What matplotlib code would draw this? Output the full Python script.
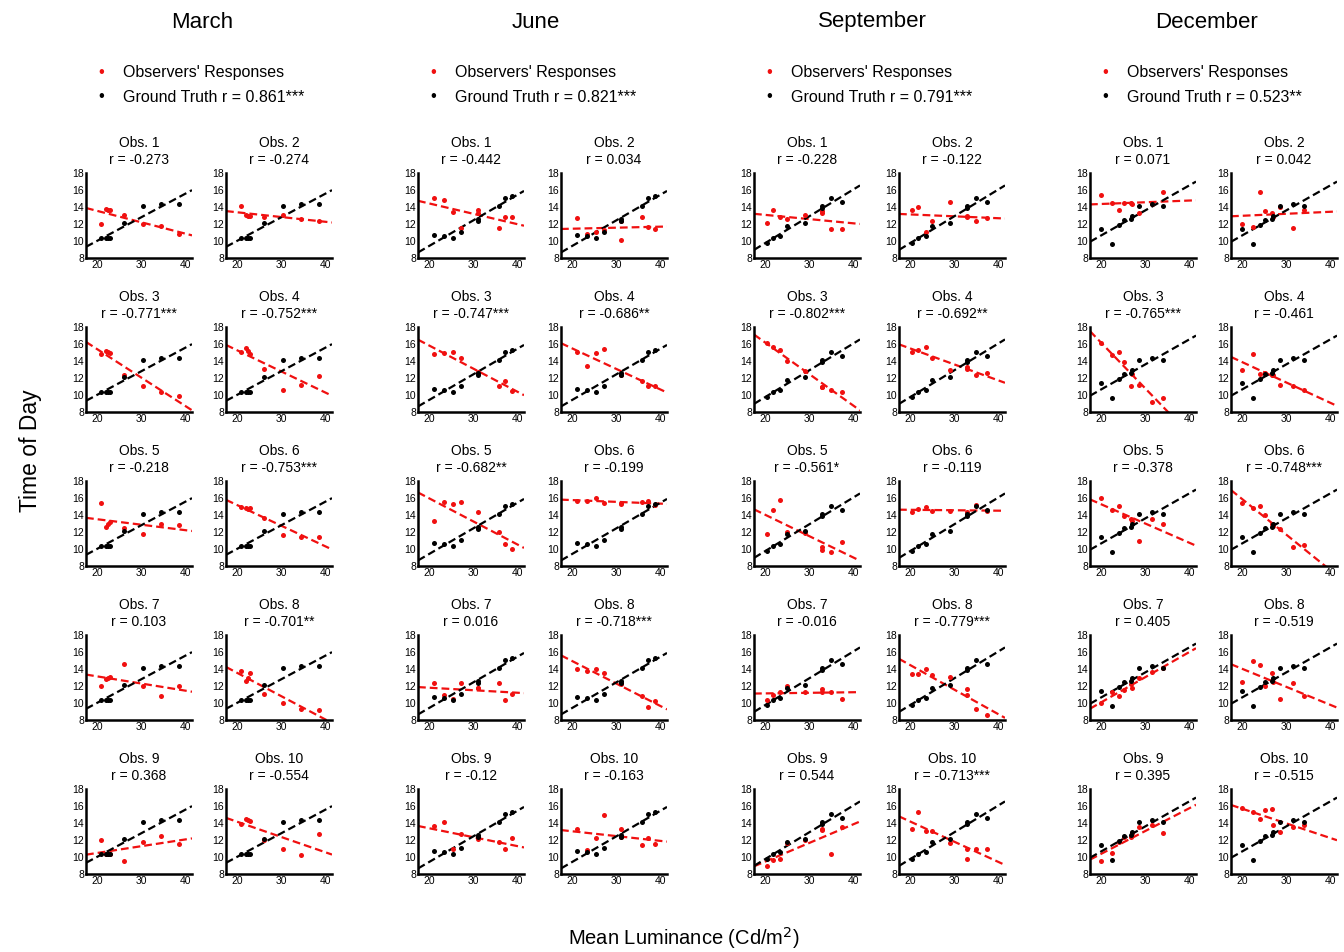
import numpy as np
import matplotlib
matplotlib.use("Agg")
import matplotlib.pyplot as plt

plt.rcParams['font.family'] = ['Liberation Sans', 'DejaVu Sans']

# months and ground-truth
months = ["March", "June", "September", "December"]
gt_r = ["0.861***", "0.821***", "0.791***", "0.523**"]

march_x = [21, 22, 22.5, 23, 26, 30.5, 34.5, 38.5]
march_gt = [10.4, 10.4, 10.3, 10.3, 12.1, 14.1, 14.3, 14.3]
march_obs = [
    [12.0, 13.8, 13.6, 13.6, 13.0, 12.0, 11.8, 10.8],
    [14.1, 13.1, 12.9, 12.9, 12.8, 13.1, 12.6, 12.3],
    [14.8, 15.2, 15.1, 14.9, 12.4, 11.1, 10.4, 9.9],
    [15.1, 15.5, 15.2, 14.8, 13.1, 10.6, 11.2, 12.2],
    [15.4, 12.6, 13.0, 13.2, 12.5, 11.8, 13.0, 12.8],
    [15.0, 14.8, 14.7, 14.8, 13.6, 11.6, 11.4, 11.4],
    [12.0, 12.8, 12.9, 13.1, 14.6, 12.0, 10.8, 12.0],
    [13.8, 12.6, 13.0, 13.5, 11.1, 10.0, 9.3, 9.2],
    [12.0, 10.3, 10.4, 10.4, 9.5, 11.8, 12.5, 11.5],
    [13.9, 14.5, 14.3, 14.2, 12.0, 11.0, 10.2, 12.7],
]
march_r = ["-0.273", "-0.274", "-0.771***", "-0.752***", "-0.218",
           "-0.753***", "0.103", "-0.701**", "0.368", "-0.554"]

june_x = [21.2, 23.3, 25.5, 27.2, 31.0, 31.0, 35.8, 37.3, 38.7]
june_gt = [10.7, 10.6, 10.3, 11.1, 12.3, 12.6, 14.1, 15.1, 15.3]
june_obs = [
    [15.0, 14.8, 13.4, 11.5, 13.6, 13.3, 11.5, 12.8, 12.8],
    [12.7, 10.8, 11.0, 11.3, 10.1, 12.4, 12.8, 11.6, 11.4],
    [14.8, 14.9, 15.1, 14.4, 12.7, 12.6, 11.1, 11.6, 10.5],
    [15.1, 13.4, 14.9, 15.4, 12.5, 12.3, 11.6, 11.1, 11.1],
    [13.3, 15.5, 15.3, 15.5, 14.3, 12.5, 12.0, 10.6, 10.0],
    [15.7, 15.7, 16.0, 15.4, 15.4, 15.3, 15.5, 15.7, 15.2],
    [12.4, 11.0, 10.5, 12.3, 11.8, 11.8, 12.3, 10.3, 11.1],
    [14.0, 13.8, 14.0, 13.5, 12.2, 12.4, 10.8, 9.5, 10.2],
    [13.7, 14.1, 11.0, 12.7, 12.1, 12.3, 11.8, 11.0, 12.2],
    [13.3, 10.8, 12.2, 15.0, 13.3, 12.4, 11.4, 12.2, 11.5],
]
june_r = ["-0.442", "0.034", "-0.747***", "-0.686**", "-0.682**",
          "-0.199", "0.016", "-0.718***", "-0.12", "-0.163"]

sep_x = [20.5, 21.8, 23.5, 25.0, 29.0, 32.8, 32.8, 35.0, 37.5]
sep_gt = [9.8, 10.3, 10.6, 11.8, 12.1, 13.9, 14.1, 15.1, 14.6]
sep_obs = [
    [12.1, 13.6, 12.8, 12.6, 13.1, 13.3, 13.5, 11.4, 11.4],
    [13.7, 14.0, 11.0, 12.3, 14.6, 12.9, 12.8, 12.4, 12.7],
    [16.1, 15.6, 15.3, 14.0, 12.8, 10.9, 11.0, 10.6, 10.4],
    [15.1, 15.3, 15.6, 14.4, 13.0, 13.1, 13.3, 12.3, 12.6],
    [11.8, 14.6, 15.8, 12.0, 11.9, 9.9, 10.2, 9.7, 10.8],
    [14.4, 14.7, 15.0, 14.5, 14.5, 14.0, 14.3, 15.2, 14.5],
    [10.4, 10.9, 11.3, 12.0, 11.3, 11.7, 11.3, 11.3, 10.5],
    [13.4, 13.4, 14.0, 13.3, 13.1, 11.6, 11.0, 9.3, 8.6],
    [8.9, 9.6, 9.8, 11.6, 12.0, 13.2, 13.3, 10.3, 13.5],
    [13.3, 15.3, 13.1, 13.1, 11.7, 9.8, 11.0, 10.9, 10.9],
]
sep_r = ["-0.228", "-0.122", "-0.802***", "-0.692**", "-0.561*",
         "-0.119", "-0.016", "-0.779***", "0.544", "-0.713***"]

dec_x = [20.0, 22.4, 24.0, 25.3, 26.8, 27.0, 28.6, 31.5, 34.0]
dec_gt = [11.4, 9.6, 11.9, 12.5, 12.6, 12.9, 14.1, 14.3, 14.1]
dec_obs = [
    [15.4, 14.5, 13.6, 14.5, 14.5, 14.4, 13.3, 14.4, 15.8],
    [12.0, 11.6, 15.8, 13.5, 13.3, 12.8, 14.0, 11.5, 13.6],
    [16.1, 14.7, 15.1, 13.9, 11.1, 12.5, 11.2, 9.2, 9.6],
    [13.0, 14.8, 12.5, 12.6, 12.4, 12.4, 11.2, 11.1, 10.6],
    [16.0, 14.6, 15.1, 13.9, 13.5, 13.3, 11.0, 13.5, 13.0],
    [15.4, 14.8, 15.1, 14.0, 13.0, 12.7, 12.3, 10.2, 10.5],
    [10.0, 11.3, 10.8, 11.5, 12.2, 11.8, 13.0, 13.6, 14.1],
    [12.5, 15.0, 14.5, 12.0, 13.5, 12.5, 10.5, 12.3, 10.8],
    [9.5, 10.5, 11.8, 12.3, 12.3, 12.8, 13.5, 13.8, 12.8],
    [15.8, 15.3, 14.5, 15.5, 15.7, 13.8, 13.0, 13.5, 13.8],
]
dec_r = ["0.071", "0.042", "-0.765***", "-0.461", "-0.378",
         "-0.748***", "0.405", "-0.519", "0.395", "-0.515"]

all_x = [march_x, june_x, sep_x, dec_x]
all_gt = [march_gt, june_gt, sep_gt, dec_gt]
all_obs = [march_obs, june_obs, sep_obs, dec_obs]
all_r = [march_r, june_r, sep_r, dec_r]

W, H = 1344, 952
fig = plt.figure(figsize=(W / 100, H / 100), dpi=100)

col_lefts = [86, 226, 418, 561, 754, 899, 1090, 1231]
row_tops = [173, 327, 481, 635, 789]
aw, ah = 106, 85
xlim = (17.5, 41.5)
red = '#f01010'


def fx(px):
    return px / W


def fy(py):
    return 1 - py / H


for m in range(4):
    xs = np.array(all_x[m])
    gt = np.array(all_gt[m])
    l1 = col_lefts[2 * m]
    l2 = col_lefts[2 * m + 1]
    cx = (l1 + l2 + aw) / 2 - 7
    fig.text(fx(cx), fy(22), months[m], ha='center', va='center', fontsize=16)
    # legend
    fig.text(fx(l1 + 15), fy(73), '•', color=red, ha='center', va='center', fontsize=12)
    fig.text(fx(l1 + 15), fy(97), '•', color='black', ha='center', va='center', fontsize=12)
    fig.text(fx(l1 + 37), fy(73), "Observers' Responses", ha='left', va='center', fontsize=11.5)
    fig.text(fx(l1 + 37), fy(97), "Ground Truth r = " + gt_r[m], ha='left', va='center', fontsize=11.5)

    for k in range(10):
        row, col = divmod(k, 2)
        left = col_lefts[2 * m + col]
        top = row_tops[row]
        ax = fig.add_axes([fx(left), fy(top + ah), aw / W, ah / H])
        obs = np.array(all_obs[m][k])
        xx = np.array(xlim)
        p_obs = np.polyfit(xs, obs, 1)
        p_gt = np.polyfit(xs, gt, 1)
        ax.plot(xx, np.polyval(p_obs, xx), '--', color=red, lw=1.6, dashes=(3.5, 1.8), zorder=2)
        ax.plot(xx, np.polyval(p_gt, xx), '--', color='black', lw=1.6, dashes=(3.5, 1.8), zorder=3)
        ax.scatter(xs, obs, s=13, color=red, zorder=4, linewidths=0)
        ax.scatter(xs, gt, s=13, color='black', zorder=5, linewidths=0)
        ax.set_xlim(*xlim)
        ax.set_ylim(8, 18)
        ax.set_xticks([20, 30, 40])
        ax.set_yticks([8, 10, 12, 14, 16, 18])
        ax.tick_params(length=0, labelsize=7.5, pad=1.5)
        for s in ['top', 'right']:
            ax.spines[s].set_visible(False)
        for s in ['left', 'bottom']:
            ax.spines[s].set_linewidth(1.8)
        ax.text(0.5, 1 + 30 / ah, "Obs. %d" % (k + 1), transform=ax.transAxes,
                ha='center', va='center', fontsize=10)
        ax.text(0.5, 1 + 13 / ah, "r = " + all_r[m][k], transform=ax.transAxes,
                ha='center', va='center', fontsize=10)

fig.text(fx(30), fy(451), "Time of Day", rotation=90, ha='center', va='center', fontsize=16.5)
fig.text(fx(684), fy(938), "Mean Luminance (Cd/m$^2$)", ha='center', va='center', fontsize=14.5)

fig.savefig("out.png", dpi=100)
